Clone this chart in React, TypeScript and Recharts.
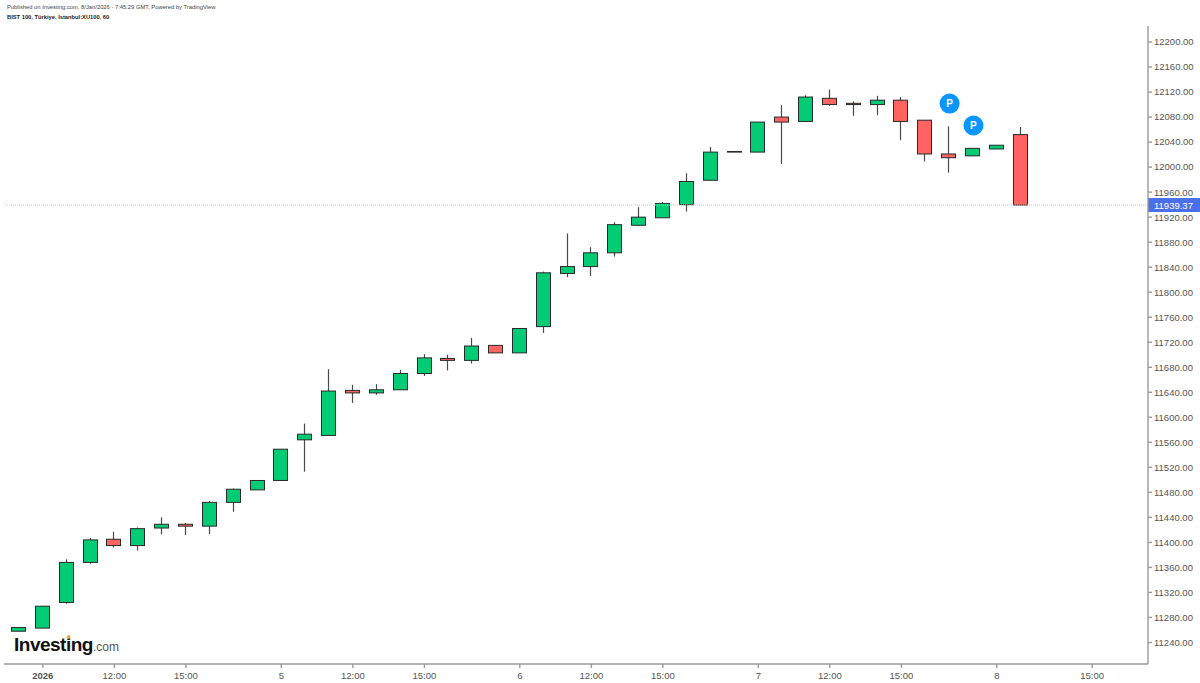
import React from 'react';
import { ComposedChart, Bar, XAxis, YAxis, ReferenceLine, ReferenceDot } from 'recharts';

const opens = [11258, 11263, 11304, 11368, 11405, 11395, 11423, 11429, 11426, 11464, 11484, 11499, 11564, 11571, 11643, 11639, 11644, 11670, 11694, 11691, 11715, 11703, 11745, 11830, 11841, 11863, 11907, 11919, 11940, 11979, 12024, 12024, 12080, 12073, 12110, 12102, 12100, 12107, 12075, 12021, 12018, 12029, 12052];
const closes = [11264, 11298, 11368, 11404, 11395, 11422, 11429, 11426, 11464, 11485, 11499, 11549, 11573, 11642, 11639, 11644, 11670, 11695, 11691, 11714, 11703, 11742, 11831, 11841, 11863, 11908, 11920, 11942, 11977, 12024, 12025, 12072, 12072, 12112, 12100, 12100, 12107, 12073, 12021, 12015, 12030, 12035, 11939.37];
const highs = [11264, 11298, 11373, 11407, 11417, 11424, 11440, 11431, 11466, 11486, 11499, 11549, 11590, 11677, 11652, 11653, 11676, 11701, 11700, 11727, 11715, 11742, 11833, 11894, 11872, 11912, 11936, 11944, 11990, 12032, 12025, 12072, 12099, 12115, 12124, 12105, 12114, 12112, 12075, 12065, 12030, 12035, 12064];
const lows = [11258, 11263, 11302, 11366, 11392, 11387, 11413, 11412, 11413, 11449, 11484, 11499, 11513, 11571, 11623, 11636, 11644, 11666, 11675, 11686, 11703, 11703, 11735, 11824, 11826, 11857, 11906, 11919, 11929, 11978, 12024, 12024, 12005, 12073, 12098, 12082, 12083, 12043, 12009, 11991, 12018, 12029, 11939.37];

const tickIndexes = [1, 4, 7, 11, 14, 17, 21, 24, 27, 31, 34, 37, 41, 45];
const tickLabels = ['2026', '12:00', '15:00', '5', '12:00', '15:00', '6', '12:00', '15:00', '7', '12:00', '15:00', '8', '15:00'];
const priceTicks = [11240, 11280, 11320, 11360, 11400, 11440, 11480, 11520, 11560, 11600, 11640, 11680, 11720, 11760, 11800, 11840, 11880, 11920, 11960, 12000, 12040, 12080, 12120, 12160, 12200];

const lastPrice = 11939.37;
const markerIndexes = [39, 40];
const markerPrices = [12102, 12067];

const GREEN = '#02CB75';
const RED = '#FF6460';
const FONT = '"Liberation Sans", Arial, sans-serif';

const candles = opens.map((open, i) => ({
  idx: i,
  open,
  close: closes[i],
  high: highs[i],
  low: lows[i],
  range: [lows[i], highs[i]],
}));

const Candle = (props: any) => {
  const { x, y, width, height, payload } = props;
  const { open, close, high, low } = payload;
  const h = Math.abs(height);
  const top = height < 0 ? y + height : y;
  const perUnit = h / (high - low);
  const bodyTop = top + (high - Math.max(open, close)) * perUnit;
  const bodyBottom = top + (high - Math.min(open, close)) * perUnit;
  const mid = Math.round(x + width / 2) - 0.5;
  return (
    <g>
      <line x1={mid} x2={mid} y1={top} y2={top + h} stroke="#4a4a4a" strokeWidth={1.2} />
      <rect
        x={mid - 7}
        y={bodyTop}
        width={14}
        height={Math.max(bodyBottom - bodyTop, 0.5)}
        fill={close >= open ? GREEN : RED}
        stroke="#2a2a2a"
        strokeWidth={1}
      />
    </g>
  );
};

const TimeTick = (props: any) => {
  const { x, y, payload } = props;
  const label = tickLabels[tickIndexes.indexOf(payload.value)];
  return (
    <text x={x} y={y + 9} textAnchor="middle" fontFamily={FONT} fontSize={9.5} fill="#555" fontWeight={label === '2026' ? 700 : 400}>
      {label}
    </text>
  );
};

const PriceTag = (props: any) => {
  const { viewBox } = props;
  const right = viewBox.x + viewBox.width;
  return (
    <g>
      <rect x={right} y={viewBox.y - 7} width={52} height={14} fill="#4A6FE8" />
      <text x={right + 6} y={viewBox.y + 3.5} fontFamily={FONT} fontSize={9.5} fill="#fff">
        {lastPrice.toFixed(2)}
      </text>
    </g>
  );
};

const PMarker = (props: any) => {
  const { cx, cy } = props;
  return (
    <g>
      <circle cx={cx + 0.5} cy={cy + 0.3} r={10} fill="#0A96FF" />
      <text x={cx + 0.5} y={cy + 3.8} textAnchor="middle" fontFamily={FONT} fontSize={10} fontWeight={700} fill="#fff">
        P
      </text>
    </g>
  );
};

export default function App() {
  return (
    <div style={{ position: 'absolute', left: 0, top: 0, width: 1200, height: 683, background: '#fff', overflow: 'hidden' }}>
      <ComposedChart width={1200} height={683} data={candles} margin={{ top: 26, right: 0, bottom: 0, left: 4 }}>
        <XAxis
          dataKey="idx"
          type="number"
          domain={[-0.629, 47.34]}
          ticks={tickIndexes}
          tick={<TimeTick />}
          tickSize={4}
          height={19}
          allowDataOverflow
          stroke="#9a9a9a"
          strokeWidth={1.4}
        />
        <YAxis
          orientation="right"
          type="number"
          domain={[11205.6, 12225.6]}
          ticks={priceTicks}
          tickFormatter={(v: number) => v.toFixed(2)}
          tick={{ fontFamily: FONT, fontSize: 9.5, fill: '#555' }}
          tickSize={4}
          tickMargin={2}
          width={52}
          interval={0}
          allowDataOverflow
          stroke="#9a9a9a"
          strokeWidth={1.4}
        />
        <ReferenceLine y={lastPrice} stroke="#B4C2F4" strokeDasharray="1 1" label={<PriceTag />} />
        <Bar dataKey="range" barSize={14} shape={<Candle />} isAnimationActive={false} />
        {markerIndexes.map((idx, i) => (
          <ReferenceDot key={idx} x={idx} y={markerPrices[i]} r={10} shape={<PMarker />} />
        ))}
      </ComposedChart>

      <div style={{ position: 'absolute', left: 7, top: 4, fontFamily: FONT, fontSize: 5.8, color: '#444', whiteSpace: 'nowrap' }}>
        Published on Investing.com, 8/Jan/2026 - 7:45:29 GMT, Powered by TradingView
      </div>
      <div style={{ position: 'absolute', left: 7, top: 14, fontFamily: FONT, fontSize: 5.75, fontWeight: 700, color: '#222', whiteSpace: 'nowrap' }}>
        BIST 100, Türkiye, İstanbul:XU100, 60
      </div>
      <div style={{ position: 'absolute', left: 14, top: 634, fontFamily: FONT, color: '#111', whiteSpace: 'nowrap', lineHeight: '21px' }}>
        <span style={{ fontSize: 19, fontWeight: 700, letterSpacing: -0.5 }}>Investing</span>
        <span style={{ fontSize: 12, color: '#555' }}>.com</span>
      </div>
      <div style={{ position: 'absolute', left: 67, top: 635, width: 3, height: 4, borderRadius: 2, background: '#F5A623', transform: 'rotate(30deg)' }} />
    </div>
  );
}
